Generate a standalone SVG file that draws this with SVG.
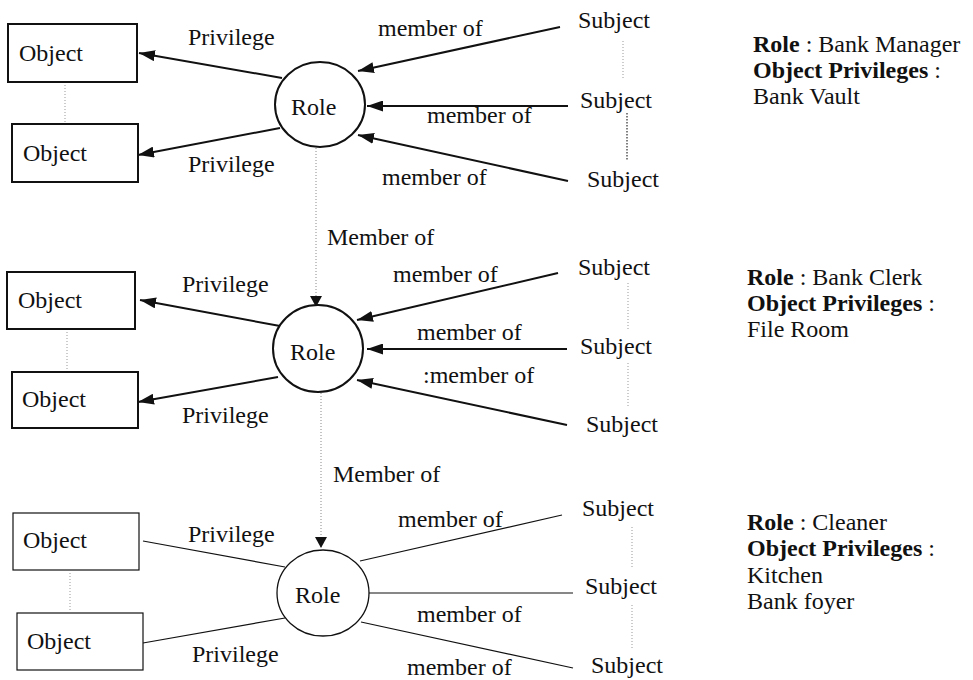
<svg xmlns="http://www.w3.org/2000/svg" width="973" height="680" viewBox="0 0 973 680">
  <style>
    text { font-family: "Liberation Serif", "Times New Roman", serif; font-size: 24px; fill: #111; }
    .b { font-weight: bold; }
    .box { fill: #fff; stroke: #111; stroke-width: 2; }
    .box-thin { fill: #fff; stroke: #111; stroke-width: 1.2; }
    .role { fill: #fff; stroke: #111; stroke-width: 2; }
    .role-thin { fill: #fff; stroke: #111; stroke-width: 1.3; }
    .arrow { stroke: #111; stroke-width: 2; fill: none; marker-end: url(#head); }
    .plain { stroke: #111; stroke-width: 1.2; fill: none; }
    .dot { stroke: #999; stroke-width: 1; stroke-dasharray: 1 2; fill: none; }
    .dot-dark { stroke: #555; stroke-width: 1.5; stroke-dasharray: 1.5 1.5; fill: none; }
    .inherit { stroke: #888; stroke-width: 1; stroke-dasharray: 1 2; fill: none; marker-end: url(#head-small); }
  </style>
  <defs>
    <marker id="head" markerUnits="userSpaceOnUse" viewBox="0 0 16 11" refX="16" refY="5.5" markerWidth="16" markerHeight="11" orient="auto">
      <path d="M0,0 L16,5.5 L0,11 z" fill="#111"/>
    </marker>
    <marker id="head-small" markerUnits="userSpaceOnUse" viewBox="0 0 11 12" refX="11" refY="6" markerWidth="11" markerHeight="12" orient="auto">
      <path d="M0,0 L11,6 L0,12 z" fill="#111"/>
    </marker>
  </defs>

  <rect width="973" height="680" fill="#fff"/>

  <!-- connectors -->
  <g id="connectors">
    <!-- tier 1: Bank Manager -->
    <line class="arrow" x1="282" y1="78" x2="139" y2="53"/>
    <line class="arrow" x1="280" y1="128" x2="138" y2="155"/>
    <line class="arrow" x1="560" y1="27" x2="358" y2="71"/>
    <line class="arrow" x1="568" y1="106" x2="367" y2="106"/>
    <line class="arrow" x1="568" y1="181" x2="358" y2="135"/>
    <line class="dot" x1="65" y1="85" x2="65" y2="122"/>
    <line class="dot" x1="623" y1="41" x2="623" y2="80"/>
    <line class="dot-dark" x1="627" y1="113" x2="627" y2="160"/>

    <!-- tier 1 to tier 2 -->
    <line class="inherit" x1="316" y1="148" x2="316" y2="307"/>

    <!-- tier 2: Bank Clerk -->
    <line class="arrow" x1="280" y1="326" x2="140" y2="300"/>
    <line class="arrow" x1="278" y1="377" x2="138" y2="402"/>
    <line class="arrow" x1="558" y1="273" x2="357" y2="320"/>
    <line class="arrow" x1="567" y1="349" x2="367" y2="349"/>
    <line class="arrow" x1="567" y1="425" x2="357" y2="380"/>
    <line class="dot" x1="67" y1="332" x2="67" y2="370"/>
    <line class="dot" x1="628" y1="283" x2="628" y2="330"/>
    <line class="dot" x1="628" y1="363" x2="628" y2="407"/>

    <!-- tier 2 to tier 3 -->
    <line class="inherit" x1="321" y1="393" x2="321" y2="548"/>

    <!-- tier 3: Cleaner -->
    <line class="plain" x1="143" y1="541" x2="285" y2="567"/>
    <line class="plain" x1="143" y1="643" x2="285" y2="618"/>
    <line class="plain" x1="360" y1="561" x2="562" y2="515"/>
    <line class="plain" x1="369" y1="593" x2="573" y2="593"/>
    <line class="plain" x1="361" y1="622" x2="573" y2="668"/>
    <line class="dot" x1="70" y1="573" x2="70" y2="612"/>
    <line class="dot" x1="632" y1="527" x2="632" y2="568"/>
    <line class="dot" x1="632" y1="605" x2="632" y2="650"/>
  </g>

  <!-- connector labels -->
  <g id="labels">
    <text x="188" y="45">Privilege</text>
    <text x="188" y="172">Privilege</text>
    <text x="378" y="36">member of</text>
    <text x="427" y="123">member of</text>
    <text x="382" y="185">member of</text>
    <text x="327" y="245">Member of</text>

    <text x="182" y="292">Privilege</text>
    <text x="182" y="423">Privilege</text>
    <text x="393" y="282">member of</text>
    <text x="417" y="340">member of</text>
    <text x="423" y="383">:member of</text>
    <text x="333" y="482">Member of</text>

    <text x="188" y="542">Privilege</text>
    <text x="192" y="662">Privilege</text>
    <text x="398" y="527">member of</text>
    <text x="417" y="622">member of</text>
    <text x="407" y="675">member of</text>
  </g>

  <!-- tier 1 nodes -->
  <g id="obj-1a"><rect class="box" x="8" y="24" width="129" height="58"/><text x="19" y="61">Object</text></g>
  <g id="obj-1b"><rect class="box" x="12" y="124" width="126" height="58"/><text x="23" y="161">Object</text></g>
  <g id="role-1"><ellipse class="role" cx="320" cy="104.5" rx="45" ry="42.5"/><text x="291" y="115">Role</text></g>
  <g id="subj-1a"><text x="578" y="28">Subject</text></g>
  <g id="subj-1b"><text x="580" y="108">Subject</text></g>
  <g id="subj-1c"><text x="587" y="187">Subject</text></g>

  <!-- tier 2 nodes -->
  <g id="obj-2a"><rect class="box" x="7" y="272" width="128" height="57"/><text x="18" y="308">Object</text></g>
  <g id="obj-2b"><rect class="box" x="12" y="372" width="126" height="56"/><text x="22" y="407">Object</text></g>
  <g id="role-2"><ellipse class="role" cx="318" cy="348.5" rx="45" ry="43.5"/><text x="290" y="360">Role</text></g>
  <g id="subj-2a"><text x="578" y="275">Subject</text></g>
  <g id="subj-2b"><text x="580" y="354">Subject</text></g>
  <g id="subj-2c"><text x="586" y="432">Subject</text></g>

  <!-- tier 3 nodes -->
  <g id="obj-3a"><rect class="box-thin" x="13" y="513" width="126" height="57"/><text x="23" y="548">Object</text></g>
  <g id="obj-3b"><rect class="box-thin" x="17" y="613" width="126" height="57"/><text x="27" y="649">Object</text></g>
  <g id="role-3"><ellipse class="role-thin" cx="323" cy="593" rx="46" ry="43"/><text x="295" y="603">Role</text></g>
  <g id="subj-3a"><text x="582" y="516">Subject</text></g>
  <g id="subj-3b"><text x="585" y="594">Subject</text></g>
  <g id="subj-3c"><text x="591" y="673">Subject</text></g>

  <!-- role descriptions -->
  <g id="desc-manager">
    <text x="753" y="52"><tspan class="b">Role</tspan> : Bank Manager</text>
    <text x="753" y="78" class="b">Object Privileges <tspan font-weight="normal">:</tspan></text>
    <text x="753" y="104">Bank Vault</text>
  </g>
  <g id="desc-clerk">
    <text x="747" y="285"><tspan class="b">Role</tspan> : Bank Clerk</text>
    <text x="747" y="311" class="b">Object Privileges <tspan font-weight="normal">:</tspan></text>
    <text x="747" y="337">File Room</text>
  </g>
  <g id="desc-cleaner">
    <text x="747" y="530"><tspan class="b">Role</tspan> : Cleaner</text>
    <text x="747" y="556" class="b">Object Privileges <tspan font-weight="normal">:</tspan></text>
    <text x="747" y="583">Kitchen</text>
    <text x="747" y="609">Bank foyer</text>
  </g>
</svg>
